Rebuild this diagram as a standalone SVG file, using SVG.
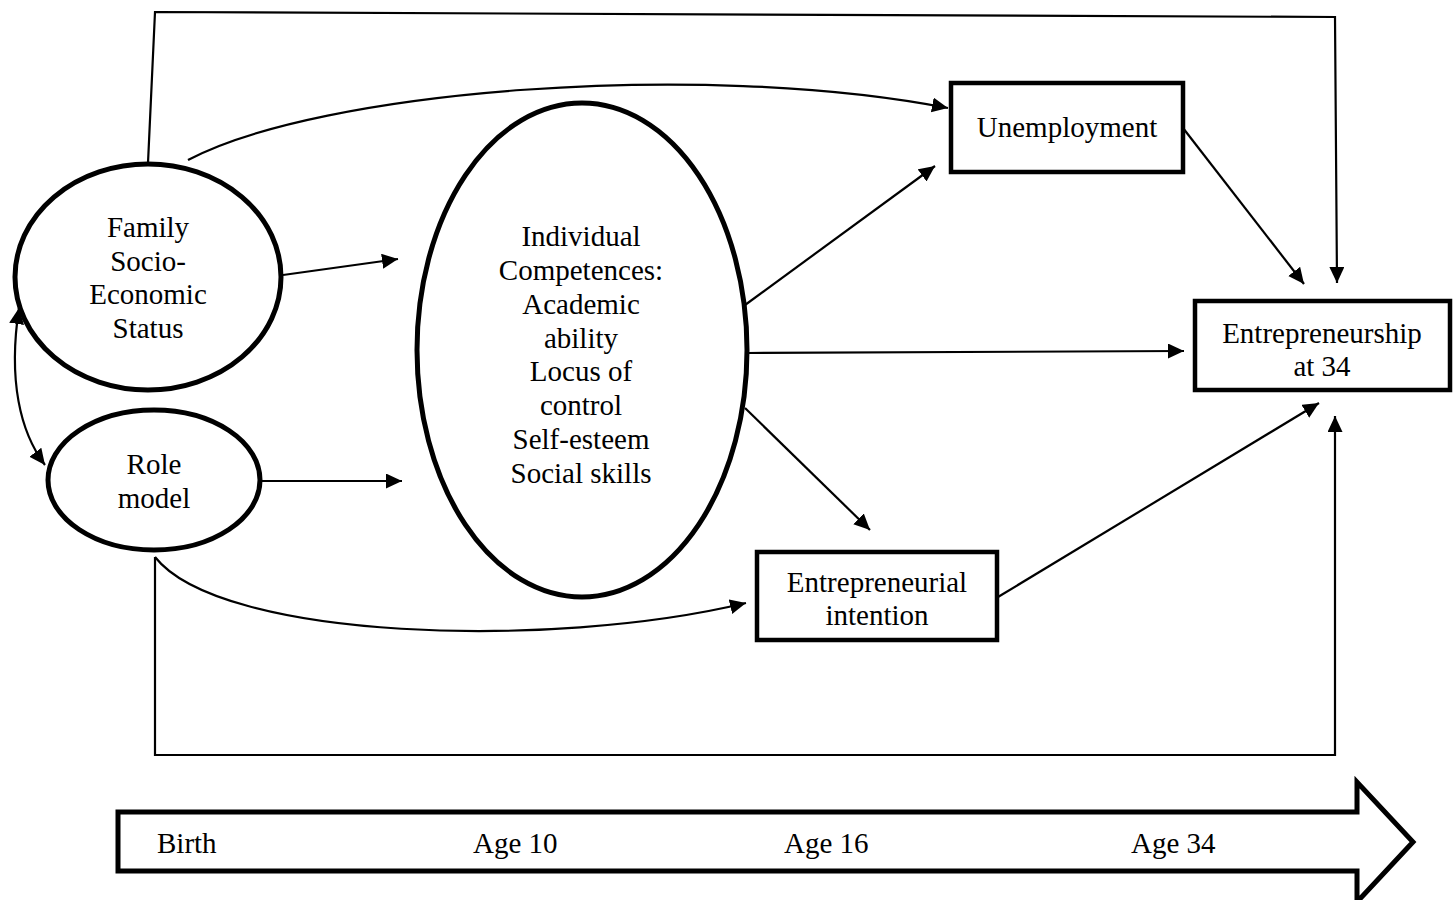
<svg xmlns="http://www.w3.org/2000/svg" width="1455" height="900" viewBox="0 0 1455 900">
<style>
  .node { fill: #fff; stroke: #000; stroke-width: 5; }
  .box { fill: #fff; stroke: #000; stroke-width: 4.5; }
  .lbl { font-family: "Liberation Serif", "Times New Roman", serif; font-size: 29px; fill: #000; text-anchor: middle; }
  .tl { font-family: "Liberation Serif", "Times New Roman", serif; font-size: 29px; fill: #000; }
  .conn { fill: none; stroke: #000; stroke-width: 2.2; }
</style>
<defs>
  <marker id="ah" markerUnits="userSpaceOnUse" markerWidth="20" markerHeight="18" refX="16" refY="7.5" orient="auto-start-reverse">
    <path d="M0,0 L16,7.5 L0,15 Z" fill="#000"/>
  </marker>
</defs>
<rect width="1455" height="900" fill="#fff"/>

<g id="connectors">
  <polyline class="conn" points="148,163 155,12 1335,17 1337,283" marker-end="url(#ah)"/>
  <path class="conn" d="M188,160 C320,90 700,60 948,108" marker-end="url(#ah)"/>
  <line class="conn" x1="283" y1="275" x2="398" y2="259" marker-end="url(#ah)"/>
  <line class="conn" x1="262" y1="481" x2="402" y2="481" marker-end="url(#ah)"/>
  <path class="conn" d="M19,308 C8,380 20,432 45,465" marker-start="url(#ah)" marker-end="url(#ah)"/>
  <line class="conn" x1="745" y1="305" x2="935" y2="166" marker-end="url(#ah)"/>
  <line class="conn" x1="748" y1="353" x2="1184" y2="351" marker-end="url(#ah)"/>
  <line class="conn" x1="745" y1="408" x2="870" y2="530" marker-end="url(#ah)"/>
  <line class="conn" x1="1183" y1="128" x2="1304" y2="284" marker-end="url(#ah)"/>
  <line class="conn" x1="998" y1="597" x2="1319" y2="403" marker-end="url(#ah)"/>
  <polyline class="conn" points="155,557 155,755 1335,755 1335,416" marker-end="url(#ah)"/>
  <path class="conn" d="M155,557 C220,640 550,650 746,603" marker-end="url(#ah)"/>
</g>

<g id="family-ses">
  <ellipse class="node" cx="148" cy="277" rx="133" ry="113"/>
  <text class="lbl" x="148" y="237">Family</text>
  <text class="lbl" x="148" y="271">Socio-</text>
  <text class="lbl" x="148" y="304">Economic</text>
  <text class="lbl" x="148" y="338">Status</text>
</g>

<g id="role-model">
  <ellipse class="node" cx="154" cy="480" rx="106" ry="70"/>
  <text class="lbl" x="154" y="474">Role</text>
  <text class="lbl" x="154" y="508">model</text>
</g>

<g id="individual-competences">
  <ellipse class="node" cx="582" cy="350" rx="165" ry="247"/>
  <text class="lbl" x="581" y="246">Individual</text>
  <text class="lbl" x="581" y="280">Competences:</text>
  <text class="lbl" x="581" y="314">Academic</text>
  <text class="lbl" x="581" y="348">ability</text>
  <text class="lbl" x="581" y="381">Locus of</text>
  <text class="lbl" x="581" y="415">control</text>
  <text class="lbl" x="581" y="449">Self-esteem</text>
  <text class="lbl" x="581" y="483">Social skills</text>
</g>

<g id="unemployment">
  <rect class="box" x="951" y="83" width="232" height="89"/>
  <text class="lbl" x="1067" y="137">Unemployment</text>
</g>

<g id="entrepreneurship-34">
  <rect class="box" x="1195" y="301" width="255" height="89"/>
  <text class="lbl" x="1322" y="343">Entrepreneurship</text>
  <text class="lbl" x="1322" y="376">at 34</text>
</g>

<g id="entrepreneurial-intention">
  <rect class="box" x="757" y="552" width="240" height="88"/>
  <text class="lbl" x="877" y="592">Entrepreneurial</text>
  <text class="lbl" x="877" y="625">intention</text>
</g>

<g id="timeline">
  <path d="M118,812 L1357,812 L1357,782 L1413,842 L1357,902 L1357,871 L118,871 Z" fill="#fff" stroke="#000" stroke-width="5"/>
  <text class="tl" x="157" y="853">Birth</text>
  <text class="tl" x="473" y="853">Age 10</text>
  <text class="tl" x="784" y="853">Age 16</text>
  <text class="tl" x="1131" y="853">Age 34</text>
</g>
</svg>
